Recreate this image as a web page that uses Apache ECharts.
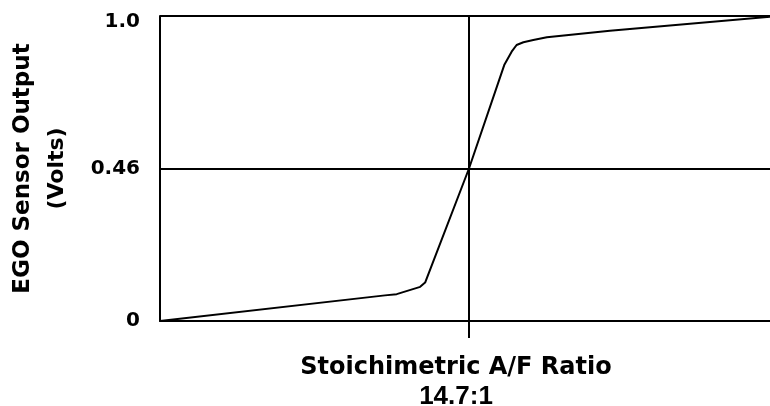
<!DOCTYPE html>
<html>
<head>
<meta charset="utf-8">
<script src="https://cdn.jsdelivr.net/npm/echarts@6/dist/echarts.min.js"></script>
<style>
html,body{margin:0;padding:0;background:#fff;}
#chart{width:770px;height:406px;}
</style>
</head>
<body>
<div id="chart"></div>
<script>
// Relative A/F position (0..1, 0.5 = stoichiometric 14.7:1)
const afPosition = [0, 0.364, 0.383, 0.421, 0.429, 0.5, 0.557, 0.569, 0.577, 0.588, 0.604, 0.626, 0.728, 1.0];
// Sensor output on the chart's schematic scale (0.5 = 0.46 V line)
const sensorOutput = [0, 0.084, 0.088, 0.112, 0.126, 0.5, 0.839, 0.883, 0.905, 0.914, 0.921, 0.930, 0.952, 1.0];
const yTickPositions = [0, 0.5, 1];
const yTickLabels = ['0', '0.46', '1.0'];
const xTickPositions = [0.5];
const xTickLabelLines = ['Stoichimetric A/F Ratio', '14.7:1'];
const yTitleLines = ['EGO Sensor Output', '(Volts)'];

const chart = echarts.init(document.getElementById('chart'), null, {renderer: 'canvas'});
const black = '#000';
const labelFont = {fontFamily: 'DejaVu Sans', fontWeight: 'bold', fontSize: 20, color: black};
const option = {
  backgroundColor: '#fff',
  animation: false,
  grid: {left: 160, right: -8, top: 16, bottom: 85, containLabel: false, outerBoundsMode: 'none'},
  xAxis: {
    type: 'value', min: 0, max: 1, interval: 0.5,
    axisLine: {show: true, lineStyle: {color: black, width: 2}},
    splitLine: {show: true, lineStyle: {color: black, width: 2}},
    axisTick: {show: true, customValues: xTickPositions, length: 17, lineStyle: {color: black, width: 2}},
    axisLabel: {
      show: true, customValues: xTickPositions, margin: 32,
      padding: [0, 26, 0, 0],
      formatter: () => '{a|' + xTickLabelLines[0] + '}\n{b|' + xTickLabelLines[1] + '}',
      rich: {
        a: {fontFamily: 'DejaVu Sans', fontWeight: 'bold', fontSize: 24, lineHeight: 29, color: black, align: 'center'},
        b: {fontFamily: 'Liberation Sans', fontWeight: 'bold', fontSize: 26, lineHeight: 29, color: black, align: 'center'}
      }
    }
  },
  yAxis: {
    type: 'value', min: 0, max: 1, interval: 0.5,
    axisLine: {show: true, lineStyle: {color: black, width: 2}},
    axisTick: {show: false},
    splitLine: {show: true, lineStyle: {color: black, width: 2}},
    axisLabel: {
      margin: 20, color: black, fontFamily: 'DejaVu Sans', fontWeight: 'bold', fontSize: 20,
      formatter: v => {
        const i = yTickPositions.indexOf(v);
        if (i < 0) return '';
        return (i === yTickPositions.length - 1 ? '{top|' : '{n|') + yTickLabels[i] + '}';
      },
      rich: {
        n: labelFont,
        top: Object.assign({padding: [12, 0, 0, 0]}, labelFont)
      }
    },
    name: '{a|' + yTitleLines[0] + '}\n{b|' + yTitleLines[1] + '}',
    nameLocation: 'middle', nameRotate: 90, nameGap: 86,
    nameTextStyle: {
      rich: {
        a: {fontFamily: 'DejaVu Sans', fontWeight: 'bold', fontSize: 23, lineHeight: 34, color: black, align: 'center'},
        b: {fontFamily: 'DejaVu Sans', fontWeight: 'bold', fontSize: 22, lineHeight: 34, color: black, align: 'center'}
      }
    }
  },
  series: [{
    type: 'line',
    data: afPosition.map((x, i) => [x, sensorOutput[i]]),
    showSymbol: false, symbol: 'none', smooth: false,
    lineStyle: {color: black, width: 2},
    clip: true
  }]
};
chart.setOption(option);
</script>
</body>
</html>
